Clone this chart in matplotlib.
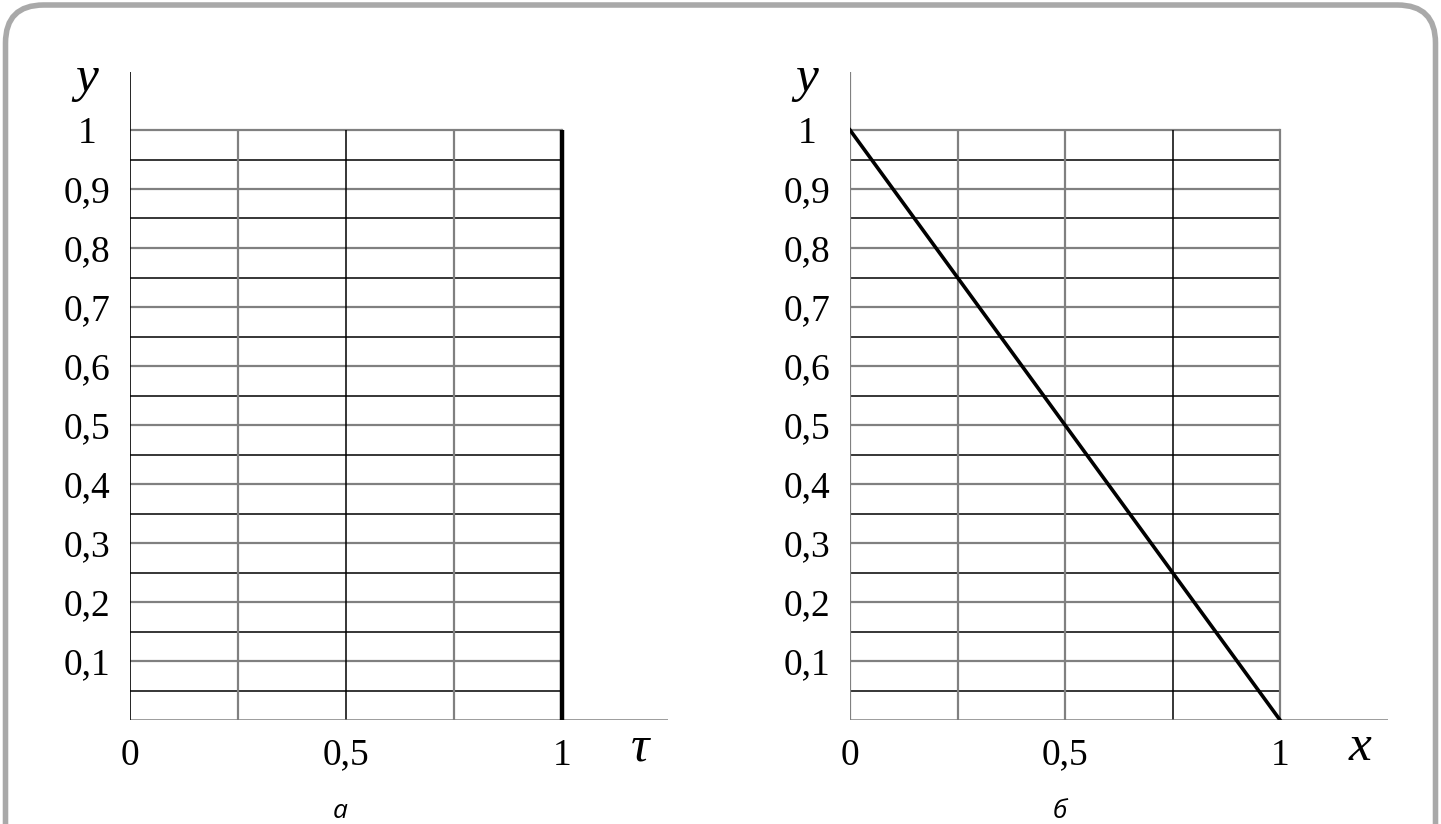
import matplotlib
matplotlib.use("Agg")
import matplotlib.pyplot as plt
from matplotlib.patches import FancyBboxPatch
from matplotlib.transforms import IdentityTransform

# ---- data ----
tau_a = [1, 1]
y_a = [0, 1]
x_b = [0, 1]
y_b = [1, 0]

ytick_vals = [0.1, 0.2, 0.3, 0.4, 0.5, 0.6, 0.7, 0.8, 0.9, 1.0]
ytick_labels = ["0,1", "0,2", "0,3", "0,4", "0,5", "0,6", "0,7", "0,8", "0,9", "1"]
xtick_vals = [0, 0.5, 1]
xtick_labels = ["0", "0,5", "1"]
hgrid = [i * 0.05 for i in range(1, 21)]
vgrid = [0.25, 0.5, 0.75]
vgrid_colors_a = ["grey", "black", "grey"]
vgrid_colors_b = ["grey", "grey", "black"]
captions = ["а", "б"]
xlabels = ["τ", "x"]

GREY = "#808080"
W, H = 1441, 824
fig = plt.figure(figsize=(W / 100, H / 100), dpi=100)
fig.patch.set_facecolor("white")

def make_axes(left_px, unit_px, xlabel, caption, vcols, yaxis_col, xaxis_len):
    ax = fig.add_axes([left_px / W, (H - 720) / H, 538 / W, 648 / H])
    ax.set_xlim(0, 538 / unit_px)
    ax.set_ylim(0, 648 / 590)
    for s in ax.spines.values():
        s.set_visible(False)
    ax.patch.set_alpha(0)
    # horizontal grid
    for i, yv in enumerate(hgrid):
        even = (i % 2 == 1)
        ax.plot([0, 1], [yv, yv], color=GREY if even else "black",
                lw=1.6 if even else 1.1, solid_capstyle="butt", zorder=1)
    # vertical grid
    for xv, c in zip(vgrid, vcols):
        ax.plot([xv, xv], [0, 1], color=GREY if c == "grey" else "black",
                lw=1.6 if c == "grey" else 1.1, solid_capstyle="butt", zorder=1)
    # x axis and y axis
    ax.plot([0, 538 / unit_px], [0, 0], color=GREY, lw=1.8, solid_capstyle="butt", zorder=2)
    ax.plot([0, 0], [0, 648 / 590], color=GREY if yaxis_col == "grey" else "black",
            lw=1.6 if yaxis_col == "grey" else 1.2, solid_capstyle="butt", zorder=2)
    ax.set_yticks(ytick_vals)
    ax.set_yticklabels(ytick_labels)
    ax.set_xticks(xtick_vals)
    ax.set_xticklabels(xtick_labels)
    ax.tick_params(axis="y", length=0, pad=31, labelsize=27)
    ax.tick_params(axis="x", length=0, pad=13, labelsize=27)
    for lab in ax.get_yticklabels():
        lab.set_horizontalalignment("center")
        lab.set_fontfamily("Liberation Serif")
    for lab in ax.get_xticklabels():
        lab.set_fontfamily("Liberation Serif")
    # axis names
    ax.text(-43 / unit_px, 648 / 590 * 0.99, "y", fontsize=37, style="italic",
            family="Liberation Serif", ha="center", va="center")
    ax.text(xaxis_len, -28 / 590, xlabel, fontsize=37, style="italic",
            family="Liberation Serif", ha="center", va="center")
    ax.text(210 / unit_px, -92 / 590, caption, fontsize=19, style="italic",
            family="Open Sans", ha="center", va="center")
    return ax

ax1 = make_axes(130, 432, xlabels[0], captions[0], vgrid_colors_a, "black", 510 / 432)
ax1.plot([1, 1], [0, 1.0], color="grey", lw=1.6, zorder=1)
ax1.plot(tau_a, y_a, color="black", lw=3.2, solid_capstyle="butt", zorder=3)

ax2 = make_axes(850, 430, xlabels[1], captions[1], vgrid_colors_b, "grey", 510 / 430)
ax2.plot([1, 1], [0, 1.0], color=GREY, lw=1.6, zorder=1)
ax2.plot(x_b, y_b, color="black", lw=2.6, zorder=3)

# rounded frame
frame = FancyBboxPatch((5.5, -60), 1430, 879,
                       boxstyle="round,pad=0,rounding_size=38",
                       transform=IdentityTransform(), facecolor="none",
                       edgecolor="#a9a9a9", lw=4.0)
fig.patches.append(frame)
frame.set_figure(fig)

fig.savefig("out.png", dpi=100)
